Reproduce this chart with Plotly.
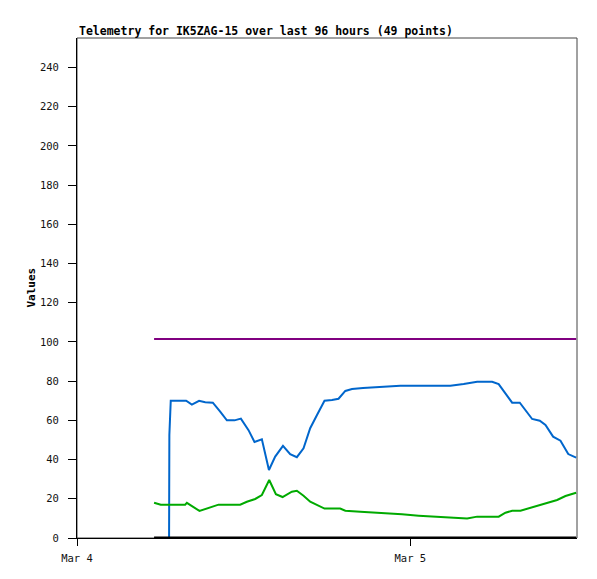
import pandas as pd
import plotly.graph_objects as go

BASE = pd.Timestamp("2024-03-04 00:00")

# hours after Mar 4 00:00 and values
blue_h = [6.63, 6.65, 6.75, 7.86, 8.27, 8.79, 9.23, 9.78, 10.31, 10.79, 11.34, 11.80,
          12.35, 12.78, 13.31, 13.82, 14.27, 14.83, 15.35, 15.83, 16.31, 16.79, 17.28,
          17.82, 18.36, 18.83, 19.32, 19.80, 20.59, 21.84, 23.28, 26.88, 27.84, 28.81,
          29.89, 30.36, 30.85, 31.33, 31.88, 32.29, 32.77, 33.32, 33.73, 34.28, 34.81,
          35.37, 35.94]
blue_v = [0, 52.5, 70, 70, 68, 70, 69.2, 69, 64.4, 60, 60, 60.9,
          55, 49, 50.3, 34.7, 41.5, 47, 42.7, 41.2, 45.7, 56, 62.7,
          70, 70.4, 71, 75, 76, 76.5, 77, 77.7, 77.7, 78.5, 79.7,
          79.7, 78.5, 73.8, 69, 69, 65.3, 60.7, 59.8, 57.6, 51.7, 49.6,
          42.8, 41]

green_h = [5.55, 6.03, 7.79, 7.91, 8.82, 9.35, 10.19, 11.75, 12.23, 12.83, 13.31,
           13.84, 14.32, 14.80, 15.47, 15.83, 16.31, 16.79, 17.28, 17.82, 18.95,
           19.32, 20.40, 21.36, 22.44, 23.40, 24.60, 25.92, 27.00, 28.09, 28.81,
           30.36, 30.85, 31.33, 31.93, 32.65, 33.61, 34.57, 35.17, 35.94]
green_v = [18, 17, 17, 17.9, 13.8, 15.1, 17, 17, 18.5, 19.9, 21.9,
           29.6, 22.3, 20.9, 23.6, 24.1, 21.6, 18.5, 16.7, 15, 15,
           13.9, 13.4, 13.1, 12.4, 12.1, 11.4, 10.9, 10.4, 9.9, 10.9,
           10.9, 12.9, 13.9, 13.9, 15.5, 17.3, 19.4, 21.4, 23.1]

purple_h = [5.55, 35.94]
purple_v = [101.5, 101.5]

black_h = [5.55, 35.94]
black_v = [0, 0]

x_tick_h = [0, 24]
x_tick_text = ["Mar 4", "Mar 5"]
y_ticks = list(range(0, 241, 20))


def t(hours):
    return [BASE + pd.Timedelta(hours=h) for h in hours]


MONO = "DejaVu Sans Mono"

fig = go.Figure()
fig.add_trace(go.Scatter(x=t(purple_h), y=purple_v, mode="lines",
                         line=dict(color="#800080", width=2), hoverinfo="skip"))
fig.add_trace(go.Scatter(x=t(blue_h), y=blue_v, mode="lines",
                         line=dict(color="#0066CC", width=2), hoverinfo="skip"))
fig.add_trace(go.Scatter(x=t(green_h), y=green_v, mode="lines",
                         line=dict(color="#00AA00", width=2), hoverinfo="skip"))
fig.add_trace(go.Scatter(x=t(black_h), y=black_v, mode="lines",
                         line=dict(color="#000000", width=3), hoverinfo="skip"))

fig.update_layout(
    width=597, height=579,
    margin=dict(l=69, r=28, t=30, b=49),
    paper_bgcolor="white", plot_bgcolor="white",
    showlegend=False,
    font=dict(family=MONO, size=10, color="#222222"),
    xaxis=dict(
        type="date",
        range=[BASE, BASE + pd.Timedelta(hours=36)],
        tickvals=t(x_tick_h), ticktext=x_tick_text,
        ticks="outside", ticklen=7, tickcolor="black", tickwidth=1,
        showgrid=False, zeroline=False,
        showline=True, linecolor="black", linewidth=1,
        tickfont=dict(family=MONO, size=10.5, color="#111111"),
        ticklabelstandoff=3,
    ),
    yaxis=dict(
        range=[0, 255],
        tickvals=y_ticks,
        ticks="outside", ticklen=8, tickcolor="black", tickwidth=1,
        showgrid=False, zeroline=False,
        showline=True, linecolor="black", linewidth=1,
        tickfont=dict(family=MONO, size=10.5, color="#111111"),
        ticklabelstandoff=7,
    ),
    shapes=[dict(type="rect", xref="paper", yref="paper", x0=0, x1=1, y0=0, y1=1,
                 line=dict(color="#444444", width=1), layer="below")],
    annotations=[
        dict(text="<b>Telemetry for IK5ZAG-15 over last 96 hours (49 points)</b>",
             xref="paper", yref="paper", x=0, y=1, xanchor="left", yanchor="bottom",
             yshift=-2, showarrow=False, font=dict(family=MONO, size=11.5, color="#000000")),
        dict(text="<b>Values</b>", xref="paper", yref="paper", x=-0.093, y=0.5,
             xanchor="center", yanchor="middle", textangle=-90, showarrow=False,
             font=dict(family=MONO, size=11, color="#000000")),
    ],
)

fig.write_html("out.html")
